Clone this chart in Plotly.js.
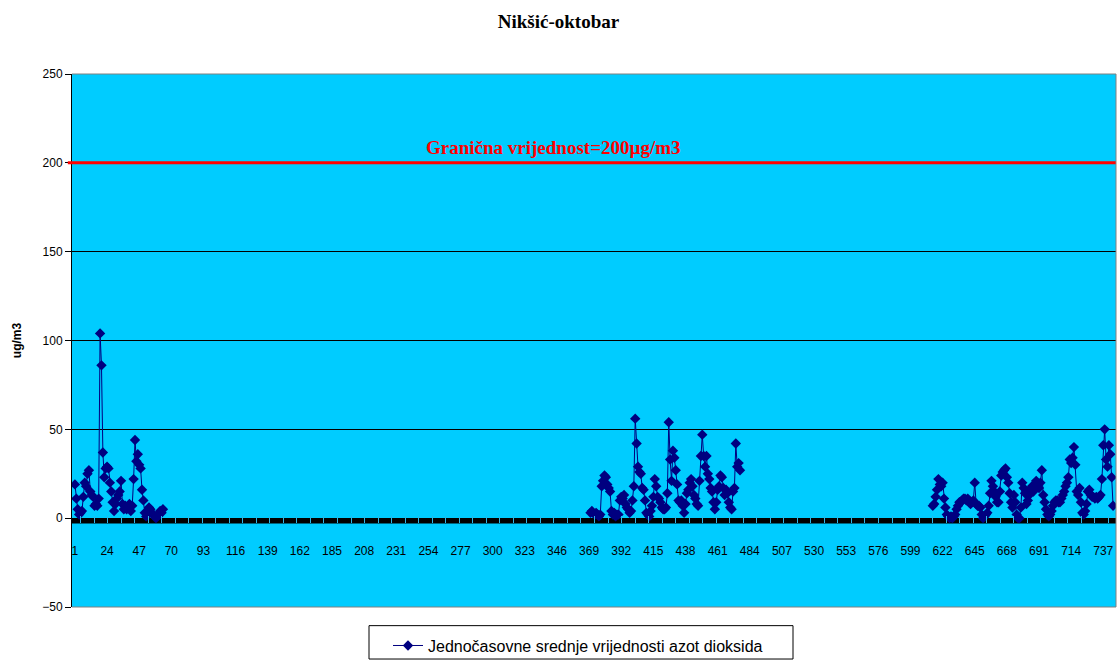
<!DOCTYPE html>
<html>
<head>
<meta charset="utf-8">
<script src="https://cdn.plot.ly/plotly-3.0.1.min.js"></script>
<style>
  html, body { margin: 0; padding: 0; background: #ffffff; }
  #chart { width: 1117px; height: 664px; }
</style>
</head>
<body>
<div id="chart"></div>
<script>
// Hourly NO2 means, Nikšić, October (744 hours). Hours without a measurement stay empty.
const HOURS_IN_MONTH = 744;

// Block 1: hours 1 - 64
const BLOCK1_START = 1;
const block1 = [19, 11, 5, 2, 3, 4, 12, 20, 18, 25, 27, 15, 13, 12, 7, 8, 7, 11, 104, 86,
  37, 23, 28, 29, 28, 20, 15, 9, 4, 8, 11, 13, 15, 21, 8, 5, 7, 5, 6, 8,
  4, 7, 22, 44, 32, 36, 30, 28, 16, 10, 3, 1, 4, 6, 5, 3, 2, 1, 0, 1,
  2, 4, 3, 5];

// Block 2: hours 370 - 477
const BLOCK2_START = 370;
const block2 = [3, 4, 3, 2, 3, 2, 1, 2, 18, 21, 24, 23, 19, 17, 15, 4, 2, 3, 1, 2,
  2, 10, 12, 11, 13, 8, 6, 5, 3, 4, 10, 18, 56, 42, 29, 26, 25, 17, 16, 10,
  3, 2, 1, 4, 7, 12, 22, 18, 12, 11, 9, 6, 5, 5, 6, 14, 54, 33, 21, 38,
  34, 27, 19, 10, 9, 10, 7, 3, 8, 14, 16, 20, 22, 18, 13, 11, 8, 7, 21, 35,
  47, 35, 29, 35, 25, 22, 17, 15, 9, 5, 9, 16, 18, 24, 23, 17, 13, 16, 14, 9,
  6, 5, 15, 17, 42, 29, 31, 27];

// Block 3: hours 615 - 744
const BLOCK3_START = 615;
const block3 = [7, 8, 12, 16, 22, 19, 18, 20, 11, 6, 2, 1, 0, 1, 0, 1, 2, 5, 7, 9,
  9, 10, 11, 11, 10, 11, 9, 8, 9, 10, 20, 8, 7, 7, 6, 2, 0, 1, 2, 3,
  7, 14, 21, 18, 15, 12, 9, 9, 15, 24, 26, 27, 28, 23, 20, 14, 9, 6, 13, 9,
  2, 0, 0, 6, 20, 17, 14, 8, 10, 13, 16, 18, 15, 18, 21, 19, 17, 20, 27, 13,
  9, 5, 2, 1, 2, 4, 7, 9, 10, 10, 9, 9, 11, 13, 15, 18, 20, 23, 33, 31,
  34, 40, 30, 15, 13, 17, 9, 3, 2, 4, 8, 15, 16, 13, 12, 12, 11, 12, 11, 12,
  13, 22, 41, 50, 33, 29, 41, 36, 23, 7];

const LIMIT_VALUE = 200;
const TICK_LABELS = [1, 24, 47, 70, 93, 116, 139, 162, 185, 208, 231, 254, 277, 300, 323, 346, 369,
  392, 415, 438, 461, 484, 507, 530, 553, 576, 599, 622, 645, 668, 691, 714, 737];
const Y_TICKS = [-50, 0, 50, 100, 150, 200, 250];

const SERIES_NAME = 'Jednočasovne srednje vrijednosti azot dioksida';
const LIMIT_LABEL = 'Granična vrijednost=200µg/m3';
const CHART_TITLE = 'Nikšić-oktobar';
const Y_TITLE = 'ug/m3';

// Assemble the month: one slot per hour, filled where measurements exist
const hours = [];
const values = [];
for (let h = 1; h <= HOURS_IN_MONTH; h++) { hours.push(h); values.push(null); }
[[BLOCK1_START, block1], [BLOCK2_START, block2], [BLOCK3_START, block3]].forEach(([start, arr]) => {
  arr.forEach((v, k) => { values[start - 1 + k] = v; });
});

const Y_MIN = -50, Y_MAX = 250;
const BAND_BOTTOM = -3;   // thick axis band under the zero line

const trace = {
  x: hours,
  y: values,
  type: 'scatter',
  mode: 'lines+markers',
  name: SERIES_NAME,
  connectgaps: false,
  line: { color: '#000080', width: 1 },
  marker: { symbol: 'diamond', size: 8, color: '#000080' },
  hoverinfo: 'x+y'
};

const layout = {
  width: 1117,
  height: 664,
  paper_bgcolor: '#ffffff',
  plot_bgcolor: '#00ccff',
  margin: { l: 72, r: 1, t: 74, b: 47 },
  font: { family: '"Liberation Sans", Arial, sans-serif', size: 12, color: '#000000' },
  title: {
    text: '<b>' + CHART_TITLE + '</b>',
    font: { family: '"Liberation Serif", "Times New Roman", serif', size: 19, color: '#000000' },
    x: 0.5, xanchor: 'center', xref: 'container',
    y: 1 - 21 / 664, yanchor: 'middle', yref: 'container'
  },
  xaxis: {
    type: 'linear',
    range: [-1.1, 746.1],
    anchor: 'free',
    position: (BAND_BOTTOM - Y_MIN) / (Y_MAX - Y_MIN),
    showline: false,
    showgrid: false,
    zeroline: false,
    tickmode: 'array',
    tickvals: TICK_LABELS,
    ticktext: TICK_LABELS.map(String),
    ticks: '',
    ticklabelstandoff: 19,
    tickfont: { size: 12, color: '#000000' },
    minor: { ticks: 'inside', tick0: 5, dtick: 9.68, ticklen: 7, tickwidth: 1, tickcolor: '#2fb6e6', showgrid: false },
    fixedrange: true
  },
  yaxis: {
    range: [Y_MIN, Y_MAX],
    tickmode: 'array',
    tickvals: Y_TICKS,
    ticks: 'outside',
    ticklen: 6,
    tickcolor: '#000000',
    showline: true,
    linecolor: '#000000',
    linewidth: 1,
    showgrid: true,
    gridcolor: '#000000',
    gridwidth: 1,
    zeroline: false,
    tickfont: { size: 12, color: '#000000' },
    title: { text: '<b>' + Y_TITLE + '</b>', font: { size: 12, color: '#000000' }, standoff: 18 },
    automargin: false,
    fixedrange: true
  },
  showlegend: true,
  legend: {
    x: (388 - 72) / 1044, xanchor: 'left',
    y: -(639 - 617) / 543, yanchor: 'top',
    orientation: 'h',
    bgcolor: 'rgba(0,0,0,0)',
    borderwidth: 0,
    font: { size: 16, color: '#000000' }
  },
  shapes: [
    // axis band below zero
    { type: 'rect', xref: 'paper', yref: 'y', x0: 0, x1: 1, y0: BAND_BOTTOM, y1: 0,
      fillcolor: '#000000', line: { width: 0 }, layer: 'below' },
    // limit line
    { type: 'line', xref: 'paper', yref: 'y', x0: -0.004, x1: 1, y0: LIMIT_VALUE, y1: LIMIT_VALUE,
      line: { color: '#ff0000', width: 3 }, layer: 'above' },
    // plot area frame (top, right, bottom)
    { type: 'line', xref: 'paper', yref: 'paper', x0: 0, x1: 1, y0: 1, y1: 1,
      line: { color: '#808080', width: 1 }, layer: 'above' },
    { type: 'line', xref: 'paper', yref: 'paper', x0: 1, x1: 1, y0: 0, y1: 1,
      line: { color: '#808080', width: 1 }, layer: 'above' },
    { type: 'line', xref: 'paper', yref: 'paper', x0: 0, x1: 1, y0: 0, y1: 0,
      line: { color: '#808080', width: 1 }, layer: 'above' },
    // legend frame
    { type: 'rect', xref: 'paper', yref: 'paper',
      x0: (369 - 72) / 1044, x1: (793 - 72) / 1044, y0: -(636 - 617) / 543, y1: -(670 - 617) / 543,
      line: { color: '#000000', width: 1 }, fillcolor: 'rgba(0,0,0,0)', layer: 'above' }
  ],
  annotations: [
    { xref: 'paper', yref: 'y', x: (553 - 72) / 1044, y: LIMIT_VALUE, xanchor: 'center', yanchor: 'bottom',
      yshift: 3, showarrow: false, text: '<b>' + LIMIT_LABEL + '</b>',
      font: { family: '"Liberation Serif", "Times New Roman", serif', size: 19, color: '#ff0000' } }
  ]
};

Plotly.newPlot('chart', [trace], layout, { displayModeBar: false, staticPlot: true });
</script>
</body>
</html>
